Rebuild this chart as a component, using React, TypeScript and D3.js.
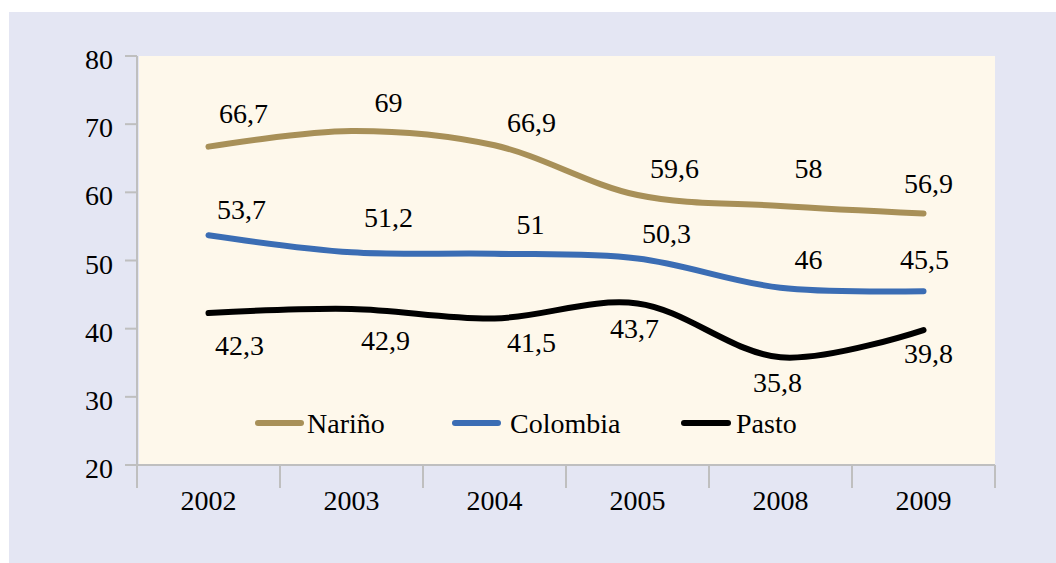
import React from 'react';
import * as d3 from 'd3';

const years = ['2002', '2003', '2004', '2005', '2008', '2009'];
const narino = [66.7, 69, 66.9, 59.6, 58, 56.9];
const colombia = [53.7, 51.2, 51, 50.3, 46, 45.5];
const pasto = [42.3, 42.9, 41.5, 43.7, 35.8, 39.8];
const yTicks = [20, 30, 40, 50, 60, 70, 80];

// hand-placed label nudges (px, from point to label centre), like the source chart
const narinoLabelOffsets = [[35, -34], [37, -29], [37, -23], [37, -27], [28, -38], [5, -30]];
const colombiaLabelOffsets = [[33, -26], [37, -35], [36, -30], [29, -25], [28, -29], [1, -32]];
const pastoLabelOffsets = [[31, 32], [34, 31], [37, 24], [-3, 25], [-3, 25], [5, 23]];

const W = 1056;
const H = 563;
const plot = { left: 137, right: 995, top: 56, bottom: 465 };
const AXIS = '#bfbfbf';

const series = [
  { name: 'Nariño', values: narino, color: '#a89058', offsets: narinoLabelOffsets },
  { name: 'Colombia', values: colombia, color: '#3b6db4', offsets: colombiaLabelOffsets },
  { name: 'Pasto', values: pasto, color: '#000000', offsets: pastoLabelOffsets },
];

const fmt = (v: number) => String(v).replace('.', ',');

export default function App() {
  const x = d3.scaleBand<string>().domain(years).range([plot.left, plot.right]).padding(0);
  const y = d3.scaleLinear().domain([20, 80]).range([plot.bottom, plot.top]);
  const cx = (yr: string) => (x(yr) as number) + x.bandwidth() / 2;

  const line = d3
    .line<number>()
    .x((_, i) => cx(years[i]))
    .y((d) => y(d))
    .curve(d3.curveCatmullRom.alpha(0.5));

  const boundaries = years.map((yr) => x(yr) as number).concat([plot.right]);

  const legend = [
    { x1: 258, x2: 301, tx: 307 },
    { x1: 455, x2: 498, tx: 510 },
    { x1: 684, x2: 728, tx: 736 },
  ];

  return (
    <div style={{ position: 'absolute', left: 0, top: 0 }}>
      <svg width={W} height={H} style={{ display: 'block' }} fontFamily="serif" fontSize={28}>
        <rect x={0} y={0} width={W} height={H} fill="#ffffff" />
        <rect x={9} y={12} width={W - 9} height={H - 12} fill="#e4e6f3" />
        <rect
          x={plot.left + 2}
          y={plot.top}
          width={plot.right - plot.left - 2}
          height={plot.bottom - plot.top}
          fill="#fef8eb"
        />

        {/* y axis */}
        <line x1={plot.left} x2={plot.left} y1={plot.top} y2={plot.bottom + 23} stroke={AXIS} strokeWidth={2} />
        {yTicks.map((t) => (
          <g key={t}>
            <line x1={plot.left - 12} x2={plot.left} y1={y(t)} y2={y(t)} stroke={AXIS} strokeWidth={2} />
            <text x={113} y={y(t) + 13} textAnchor="end" fill="#000">
              {t}
            </text>
          </g>
        ))}

        {/* x axis */}
        <line x1={plot.left} x2={plot.right} y1={plot.bottom} y2={plot.bottom} stroke={AXIS} strokeWidth={2} />
        {boundaries.map((b, i) => (
          <line key={i} x1={b} x2={b} y1={plot.bottom} y2={plot.bottom + 23} stroke={AXIS} strokeWidth={2} />
        ))}
        {years.map((yr) => (
          <text key={yr} x={cx(yr)} y={510} textAnchor="middle" fill="#000">
            {yr}
          </text>
        ))}

        {/* lines */}
        {series.map((s) => (
          <path
            key={s.name}
            d={line(s.values) || ''}
            fill="none"
            stroke={s.color}
            strokeWidth={6}
            strokeLinecap="round"
            strokeLinejoin="round"
          />
        ))}

        {/* data labels */}
        {series.map((s) =>
          s.values.map((v, i) => (
            <text
              key={s.name + i}
              x={cx(years[i]) + s.offsets[i][0]}
              y={y(v) + s.offsets[i][1] + 10}
              textAnchor="middle"
              fill="#000"
            >
              {fmt(v)}
            </text>
          ))
        )}

        {/* legend */}
        {series.map((s, i) => (
          <g key={s.name}>
            <line
              x1={legend[i].x1}
              x2={legend[i].x2}
              y1={423}
              y2={423}
              stroke={s.color}
              strokeWidth={6}
              strokeLinecap="round"
            />
            <text x={legend[i].tx} y={433} fill="#000">
              {s.name}
            </text>
          </g>
        ))}
      </svg>
    </div>
  );
}
